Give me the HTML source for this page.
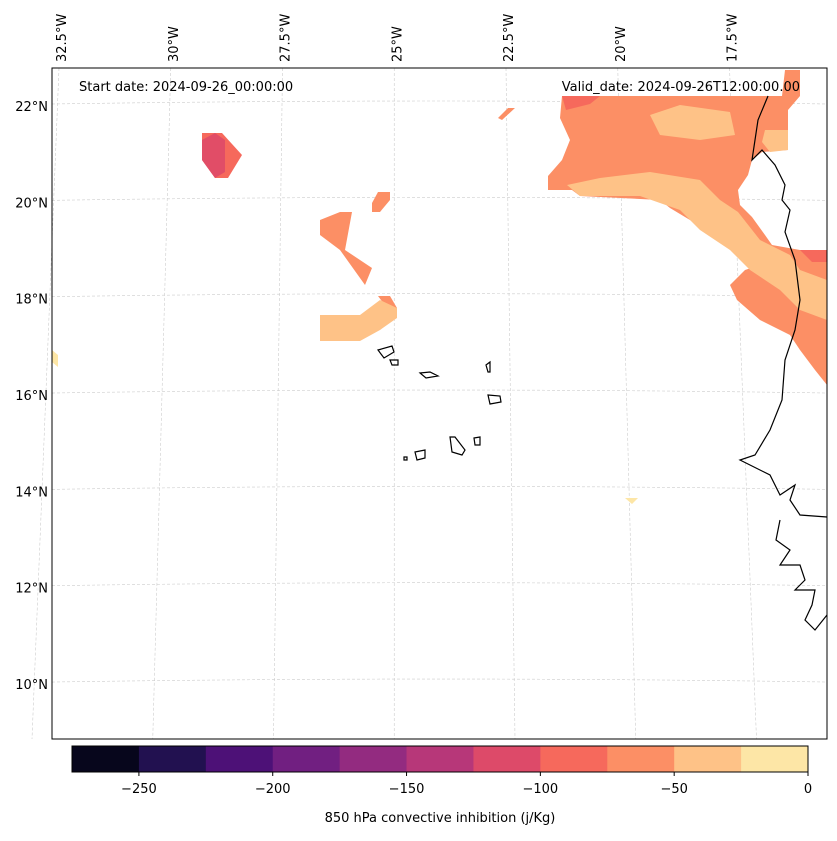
<!DOCTYPE html>
<html><head><meta charset="utf-8"><style>
body{margin:0;background:#fff;font-family:"Liberation Sans",sans-serif}
svg text{font-family:"DejaVu Sans","Liberation Sans",sans-serif;font-size:13px;fill:#000}
</style></head><body>
<svg id="chart" width="837" height="836">
<g id="grid"></g>
<g id="fills">
<polygon fill="#fc8f65" points="548,176 562,160 570,140 560,118 562,96 760,96 782,96 785,70 800,70 800,96 788,110 788,150 762,152 752,160 748,175 738,190 740,205 752,217 765,235 772,245 800,250 827,250 827,385 815,370 800,350 790,335 760,320 737,300 730,285 745,270 760,265 745,245 735,240 710,230 690,220 670,208 660,200 580,196 572,190 548,190"/>
<polygon fill="#fec287" points="567,185 600,178 650,172 700,180 720,200 738,212 760,240 790,255 800,270 827,280 827,320 800,310 780,290 750,270 730,250 700,230 680,210 640,196 580,196"/>
<polygon fill="#fec287" points="650,115 680,105 730,112 735,135 700,140 660,135"/>
<polygon fill="#fec287" points="765,130 788,130 788,150 770,152 762,142"/>
<polygon fill="#f6695c" points="562,96 600,96 590,104 566,110"/>
<polygon fill="#f6695c" points="800,250 827,250 827,262 812,262"/>
<polygon fill="#f6695c" points="202,133 222,133 242,155 228,178 215,178 202,160"/>
<polygon fill="#e14d67" points="202,140 215,133 225,140 225,172 215,178 202,160"/>
<polygon fill="#fc8f65" points="320,220 340,212 352,212 345,250 372,268 365,285 340,250 320,235"/>
<polygon fill="#fc8f65" points="372,203 378,192 390,192 390,200 380,212 372,212"/>
<polygon fill="#fc8f65" points="378,296 390,296 397,308 390,312"/>
<polygon fill="#fec287" points="320,315 360,315 380,300 397,308 397,318 380,330 360,341 320,341"/>
<polygon fill="#fc8f65" points="498,118 508,108 515,108 502,120"/>
<polygon fill="#fde6a6" points="52,350 58,355 58,367 52,362"/>
<polygon fill="#fde6a6" points="625,498 638,498 632,504"/>
</g>
<g fill="none" stroke="#000" stroke-width="1.2">
<path d="M768,96 L758,120 L752,160 L762,150 L775,165 L785,185 L782,200 L790,210 L785,232 L795,260 L800,300 L795,330 L785,360 L782,400 L770,430 L755,455 L740,460 L770,475 L780,495 L795,485 L790,500 L800,515 L827,517"/>
<path d="M780,520 L776,540 L790,550 L780,565 L800,565 L805,580 L795,590 L815,590 L812,605 L805,620 L815,630 L827,615"/>
<path d="M378,350 L392,346 L394,352 L384,358 Z M390,360 L398,360 L398,365 L392,365 Z M420,373 L430,372 L438,376 L426,378 Z M486,365 L490,362 L490,372 L488,372 Z M488,395 L500,396 L501,402 L490,404 Z M415,452 L425,450 L425,458 L417,460 Z M450,437 L455,437 L465,450 L462,455 L452,452 Z M474,438 L480,437 L480,445 L475,445 Z M404,457 L407,457 L407,460 L404,460 Z"/>
</g>
<rect x="52" y="68" width="775" height="671" fill="none" stroke="#000" stroke-width="1"/>
<text x="79" y="91">Start date: 2024-09-26_00:00:00</text>
<text x="800" y="91" text-anchor="end">Valid_date: 2024-09-26T12:00:00.00</text>
<g id="latlabels"></g>
<g id="lonlabels"></g>
<g id="cbar"></g>
<text x="440" y="822" text-anchor="middle">850 hPa convective inhibition (j/Kg)</text>
</svg>
<script>
const levels=[-275,-250,-225,-200,-175,-150,-125,-100,-75,-50,-25,0];
const levelColors=["#07061c","#221150","#4d1177","#711f81","#932b80","#b73779","#dd4a69","#f6695c","#fc8f65","#fec287","#fde6a6"];
const cbTicks=[-250,-200,-150,-100,-50,0];
const latTicks=[22,20,18,16,14,12,10];
const lonTicks=[32.5,30,27.5,25,22.5,20,17.5];
const NS="http://www.w3.org/2000/svg";
function mk(t,a,p){const e=document.createElementNS(NS,t);for(const k in a)e.setAttribute(k,a[k]);p.appendChild(e);return e;}
const cx=v=>72+(v+275)/275*736;
const ly=lat=>106+(22-lat)*48.17;
const lxTop=lon=>62+(32.5-lon)*44.7;
const cb=document.getElementById('cbar');
for(let i=0;i<levelColors.length;i++){
 const r=mk('rect',{x:cx(levels[i]),y:746,width:cx(levels[i+1])-cx(levels[i])+0.5,height:26,fill:levelColors[i]},cb);
 
 
}
mk('rect',{x:72,y:746,width:736,height:26,fill:'none',stroke:'#000','stroke-width':1},cb);
cbTicks.forEach(t=>{
 mk('line',{x1:cx(t),x2:cx(t),y1:772,y2:776,stroke:'#000'},cb);
 const tx=mk('text',{x:cx(t),y:793,'text-anchor':'middle'},cb);
 tx.textContent=(t<0?'\u2212'+(-t):t);
 
 
});
const g=document.getElementById('grid'),ll=document.getElementById('latlabels'),lo=document.getElementById('lonlabels');
latTicks.forEach(lat=>{
 const y=ly(lat)-4;
 const l=mk('path',{d:`M52,${y+2} Q440,${y-4} 827,${y+2}`,fill:'none',stroke:'#ccc','stroke-dasharray':'3,2','stroke-width':0.6},g);
 
 
 const t=mk('text',{x:48,y:y+9,'text-anchor':'end'},ll);
 t.textContent=lat+'°N';
 
 
});
lonTicks.forEach(lon=>{
 const xt=lxTop(lon)-3;
 const l=mk('line',{x1:xt,y1:68,x2:xt-(lon-25)*3.6,y2:739,stroke:'#ccc','stroke-dasharray':'3,2','stroke-width':0.6},g);
 
 
 const t=mk('text',{x:0,y:0,transform:`translate(${lxTop(lon)+4},62) rotate(-90)`},lo);
 t.textContent=lon+'°W';
 
 
});
</script>
</body></html>
